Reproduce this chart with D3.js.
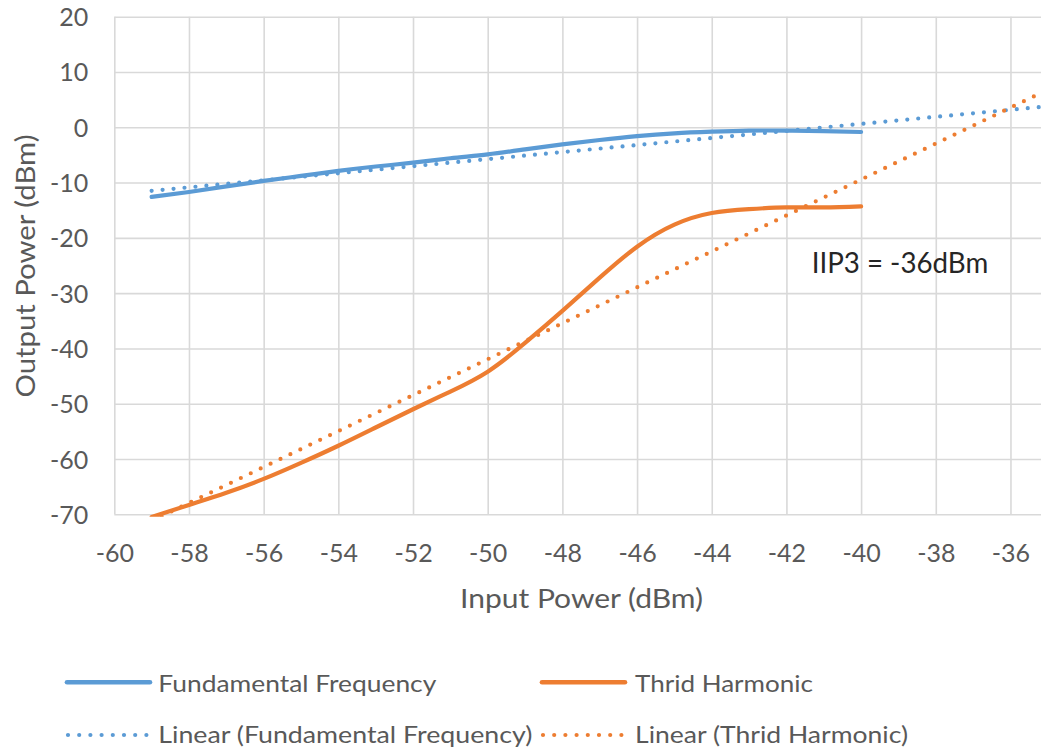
<!DOCTYPE html>
<html>
<head>
<meta charset="utf-8">
<script src="https://cdn.jsdelivr.net/npm/d3@7"></script>
<style>
  html, body { margin: 0; padding: 0; background: #fff; }
  svg { display: block; font-family: Lato, "Open Sans", sans-serif; }
</style>
</head>
<body>
<svg id="chart" width="1041" height="755"></svg>
<script>
// Input power sweep (dBm)
const inputPower = [-59, -58, -57, -56, -55, -54, -53, -52, -51, -50,
                    -49, -48, -47, -46, -45, -44, -43, -42, -41, -40];
// Measured output power of the fundamental tone (dBm)
const fundamental = [-12.6, -11.7, -10.7, -9.7, -8.8, -7.9, -7.1, -6.4, -5.6, -4.9,
                     -4.0, -3.1, -2.3, -1.6, -1.1, -0.8, -0.6, -0.6, -0.7, -0.85];
// Measured output power of the third harmonic (dBm)
const thirdHarmonic = [-70.5, -68.3, -66.1, -63.6, -60.7, -57.6, -54.3, -51.0, -47.8, -44.2,
                       -39.0, -33.2, -27.2, -21.6, -17.6, -15.5, -14.8, -14.5, -14.5, -14.3];
// Linear trendlines, forecast forward to -35 dBm: [input, output] end points
const trendFundamental = [[-59, -11.5], [-35, 3.8]];
const trendThird = [[-59, -71.2], [-35, 6.8]];

const xTicks = [-60, -58, -56, -54, -52, -50, -48, -46, -44, -42, -40, -38, -36];
const yTicks = [-70, -60, -50, -40, -30, -20, -10, 0, 10, 20];

const seriesNames = ["Fundamental Frequency", "Thrid Harmonic",
                     "Linear (Fundamental Frequency)", "Linear (Thrid Harmonic)"];
const annotation = "IIP3 = -36dBm";

const BLUE = "#5B9BD5", ORANGE = "#ED7D31", GRID = "#D9D9D9", TEXT = "#595959";

const svg = d3.select("#chart");
const plotLeft = 114.3, plotRight = 1047.8, plotTop = 16.7, plotBottom = 514.3;

const x = d3.scaleLinear().domain([-60, -35]).range([plotLeft, plotRight]);
const y = d3.scaleLinear().domain([-70, 20]).range([plotBottom, plotTop]);

// Tick labels use a plain hyphen for negatives
const plainNumber = d => String(d);

// Gridlines and tick labels
const yAxis = svg.append("g")
  .attr("transform", `translate(${plotLeft},0)`)
  .call(d3.axisLeft(y).tickValues(yTicks).tickFormat(plainNumber)
    .tickSizeInner(-(plotRight - plotLeft)).tickSizeOuter(0).tickPadding(26));
yAxis.select(".domain").remove();
yAxis.selectAll("line").attr("stroke", GRID).attr("stroke-width", 1.6);
yAxis.selectAll("text").attr("fill", TEXT).attr("font-size", 25).attr("dy", "0.36em")
  .attr("font-family", "Lato, sans-serif");

const xAxis = svg.append("g")
  .attr("transform", `translate(0,${plotBottom})`)
  .call(d3.axisBottom(x).tickValues(xTicks).tickFormat(plainNumber)
    .tickSizeInner(-(plotBottom - plotTop)).tickSizeOuter(0).tickPadding(0));
xAxis.select(".domain").remove();
xAxis.selectAll("line").attr("stroke", GRID).attr("stroke-width", 1.6);
xAxis.selectAll("text").attr("fill", TEXT).attr("font-size", 25).attr("y", 47.4).attr("dy", 0)
  .attr("font-family", "Lato, sans-serif");

// Axis titles
svg.append("text")
  .attr("x", 581.5).attr("y", 608.3)
  .attr("text-anchor", "middle").attr("fill", TEXT).attr("font-size", 27.5)
  .attr("textLength", 243).attr("lengthAdjust", "spacingAndGlyphs")
  .text("Input Power (dBm)");
svg.append("text")
  .attr("transform", "translate(34.5,266) rotate(-90)")
  .attr("text-anchor", "middle").attr("fill", TEXT).attr("font-size", 27.5)
  .attr("textLength", 263).attr("lengthAdjust", "spacingAndGlyphs")
  .text("Output Power (dBm)");

// Plot clip
svg.append("defs").append("clipPath").attr("id", "plotClip")
  .append("rect").attr("x", plotLeft).attr("y", plotTop - 3)
  .attr("width", plotRight - plotLeft).attr("height", plotBottom - plotTop + 5.5);

const plot = svg.append("g").attr("clip-path", "url(#plotClip)");

const smooth = d3.line().x(d => x(d[0])).y(d => y(d[1])).curve(d3.curveNatural);
const straight = d3.line().x(d => x(d[0])).y(d => y(d[1]));

const dotted = sel => sel.attr("fill", "none").attr("stroke-width", 4.2)
  .attr("stroke-linecap", "round").attr("stroke-dasharray", "0 11");

plot.append("path").datum(trendFundamental).attr("d", straight).attr("stroke", BLUE).call(dotted);
plot.append("path").datum(trendThird).attr("d", straight).attr("stroke", ORANGE).call(dotted);

plot.append("path").datum(d3.zip(inputPower, fundamental)).attr("d", smooth)
  .attr("fill", "none").attr("stroke", BLUE).attr("stroke-width", 4.2).attr("stroke-linecap", "round");
plot.append("path").datum(d3.zip(inputPower, thirdHarmonic)).attr("d", smooth)
  .attr("fill", "none").attr("stroke", ORANGE).attr("stroke-width", 4.2).attr("stroke-linecap", "round");

// IIP3 annotation
svg.append("text")
  .attr("x", 811.7).attr("y", 273.3)
  .attr("fill", "#262626").attr("font-size", 28.5)
  .attr("textLength", 176.5).attr("lengthAdjust", "spacingAndGlyphs")
  .text(annotation);

// Legend
const legendItems = [
  { name: seriesNames[0], color: BLUE, dash: false, lx: 67, tx: 158.3, ly: 682.3, ty: 691.7, w: 278 },
  { name: seriesNames[1], color: ORANGE, dash: false, lx: 542, tx: 635, ly: 682.3, ty: 691.7, w: 178 },
  { name: seriesNames[2], color: BLUE, dash: true, lx: 67, tx: 158.3, ly: 735, ty: 743.3, w: 374 },
  { name: seriesNames[3], color: ORANGE, dash: true, lx: 542, tx: 635, ly: 735, ty: 743.3, w: 273 }
];
const legend = svg.append("g");
legendItems.forEach(it => {
  const ln = legend.append("line")
    .attr("x1", it.lx + (it.dash ? 1 : 0)).attr("x2", it.lx + 83)
    .attr("y1", it.ly).attr("y2", it.ly).attr("stroke", it.color);
  if (it.dash) ln.call(dotted).attr("stroke-dasharray", "0 11.2");
  else ln.attr("stroke-width", 4.6).attr("stroke-linecap", "round");
  legend.append("text")
    .attr("x", it.tx).attr("y", it.ty).attr("fill", TEXT).attr("font-size", 23)
    .attr("textLength", it.w).attr("lengthAdjust", "spacingAndGlyphs")
    .text(it.name);
});
</script>
</body>
</html>
